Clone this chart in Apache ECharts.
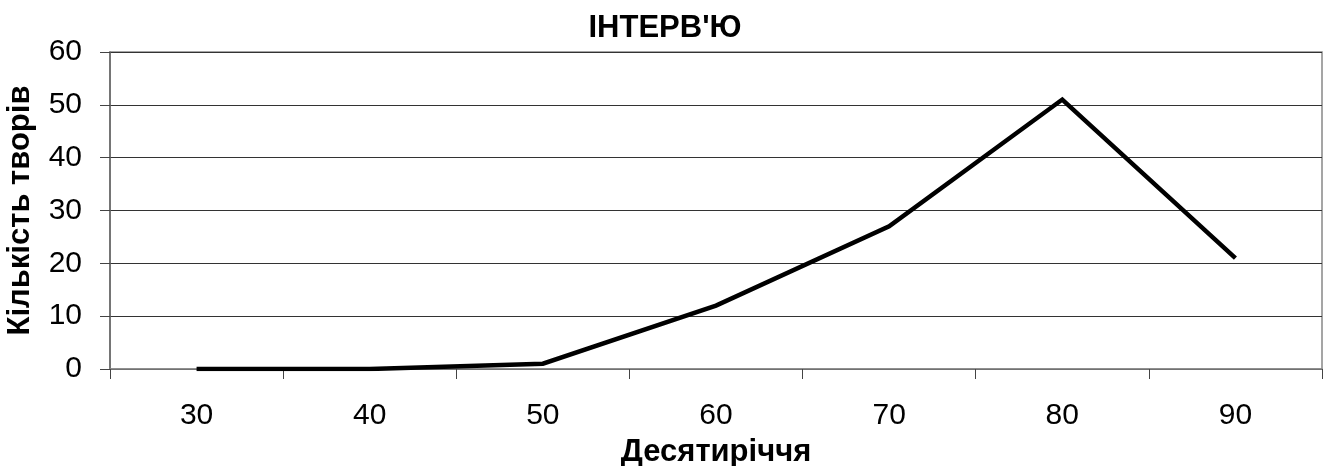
<!DOCTYPE html>
<html>
<head>
<meta charset="utf-8">
<script src="https://cdn.jsdelivr.net/npm/echarts@6/dist/echarts.min.js"></script>
<style>
  html, body { margin: 0; padding: 0; background: #fff; }
  #chart { width: 1327px; height: 466px; }
</style>
</head>
<body>
<div id="chart"></div>
<script>
// Decades on the horizontal axis
const decades = ['30', '40', '50', '60', '70', '80', '90'];
// Number of interview works per decade
const works = [0, 0, 1, 12, 27, 51, 21];

const FONT = '"Liberation Sans", Arial, sans-serif';

const chart = echarts.init(document.getElementById('chart'), null, { renderer: 'canvas' });
chart.setOption({
  animation: false,
  backgroundColor: '#ffffff',
  title: {
    text: "ІНТЕРВ'Ю",
    left: 660,
    top: 6,
    textAlign: 'center',
    textStyle: { fontFamily: FONT, fontWeight: 'bold', fontSize: 31, lineHeight: 34, color: '#000' }
  },
  grid: {
    left: 110, right: 5, top: 52, bottom: 97,
    outerBoundsMode: 'none',
    containLabel: false,
    show: true, borderColor: '#888', borderWidth: 1.5, backgroundColor: '#fff'
  },
  xAxis: {
    type: 'category',
    data: decades,
    boundaryGap: true,
    name: 'Десятиріччя',
    nameLocation: 'middle',
    nameGap: 61,
    nameTextStyle: { fontFamily: FONT, fontWeight: 'bold', fontSize: 31, lineHeight: 34, color: '#000' },
    axisLine: { lineStyle: { color: '#888', width: 1.5 } },
    axisTick: { show: true, length: 10, inside: false, lineStyle: { color: '#444', width: 1 } },
    axisLabel: { fontFamily: FONT, fontSize: 30, lineHeight: 30, color: '#000', margin: 32 }
  },
  yAxis: {
    type: 'value',
    min: 0, max: 60, interval: 10,
    name: 'Кількість творів',
    nameLocation: 'middle',
    nameGap: 68,
    nameTextStyle: { fontFamily: FONT, fontWeight: 'bold', fontSize: 31, lineHeight: 34, color: '#000' },
    axisLine: { show: true, lineStyle: { color: '#666', width: 1.5 } },
    axisTick: { show: true, length: 10, lineStyle: { color: '#444', width: 1 } },
    axisLabel: { fontFamily: FONT, fontSize: 30, color: '#000', margin: 28 },
    splitLine: { show: true, lineStyle: { color: '#333', width: 1 } }
  },
  series: [{
    type: 'line',
    data: works,
    symbol: 'none',
    lineStyle: { color: '#000', width: 4.5, join: 'miter' },
    itemStyle: { color: '#000' }
  }]
});
</script>
</body>
</html>
